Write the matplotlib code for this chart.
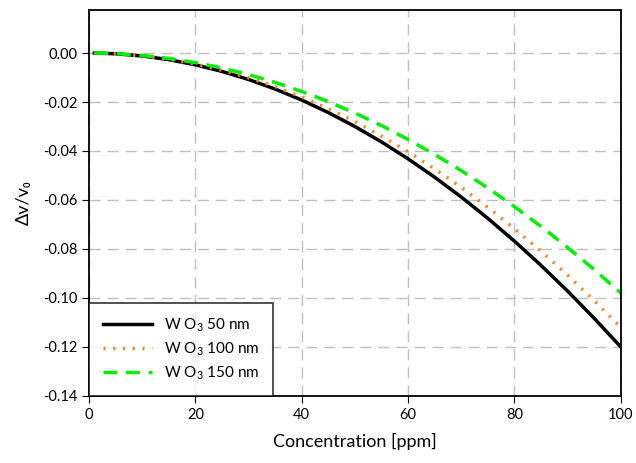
import matplotlib

matplotlib.use("Agg")
import matplotlib.pyplot as plt

plt.rcParams["font.family"] = ["Lato", "DejaVu Sans"]
plt.rcParams["mathtext.fontset"] = "custom"
plt.rcParams["mathtext.rm"] = "Lato"

conc = [1, 5, 10, 15, 20, 25, 30, 35, 40, 45, 50, 55, 60, 65, 70, 75, 80, 85, 90, 95, 100]
wo3_50 = [0.0, -0.0003, -0.0012, -0.0027, -0.0048, -0.0075, -0.0108, -0.0147, -0.0192,
          -0.0243, -0.0300, -0.0363, -0.0432, -0.0507, -0.0588, -0.0675, -0.0768,
          -0.0867, -0.0972, -0.1083, -0.1200]
wo3_100 = [0.0, -0.0003, -0.0011, -0.0025, -0.0045, -0.0070, -0.0101, -0.0137, -0.0179,
           -0.0227, -0.0280, -0.0339, -0.0403, -0.0473, -0.0549, -0.0630, -0.0717,
           -0.0809, -0.0907, -0.1011, -0.1120]
wo3_150 = [0.0, -0.0002, -0.0010, -0.0022, -0.0039, -0.0061, -0.0088, -0.0120, -0.0157,
           -0.0198, -0.0245, -0.0296, -0.0353, -0.0414, -0.0480, -0.0551, -0.0627,
           -0.0708, -0.0794, -0.0884, -0.0980]
labels = ["W O$_3$ 50 nm", "W O$_3$ 100 nm", "W O$_3$ 150 nm"]

fig = plt.figure(figsize=(6.36, 4.63), dpi=100)
ax = fig.add_axes([0.14, 0.145, 0.836, 0.833])

ax.plot(conc, wo3_50, color="black", linewidth=2.5, label=labels[0])
ax.plot(conc, wo3_100, color="#ff7f1e", linewidth=2.5, linestyle=(0, (0.6, 2.2)), label=labels[1])
ax.plot(conc, wo3_150, color="#00ee00", linewidth=2.5, linestyle=(0, (4, 2.5)), label=labels[2])

ax.set_xlim(0, 100)
ax.set_ylim(-0.14, 0.0175)
ax.set_xticks([0, 20, 40, 60, 80, 100])
ax.set_yticks([0.0, -0.02, -0.04, -0.06, -0.08, -0.10, -0.12, -0.14])
ax.set_yticklabels(["0.00", "-0.02", "-0.04", "-0.06", "-0.08", "-0.10", "-0.12", "-0.14"])
ax.grid(True, color="#c0c0c0", linestyle=(0, (8, 5)), linewidth=1)
ax.set_axisbelow(True)
ax.tick_params(direction="out", labelsize=10.5, length=5)
for s in ax.spines.values():
    s.set_linewidth(1.3)

ax.set_xlabel("Concentration [ppm]", fontsize=13, labelpad=8)
ax.set_ylabel("Δv/v₀", fontsize=13, labelpad=8)

leg = ax.legend(loc="lower left", fancybox=False, edgecolor="black", fontsize=11,
                borderaxespad=0, handlelength=3.2, borderpad=0.9, labelspacing=0.4)
leg.get_frame().set_linewidth(1.2)

fig.savefig("out.png", dpi=100)
